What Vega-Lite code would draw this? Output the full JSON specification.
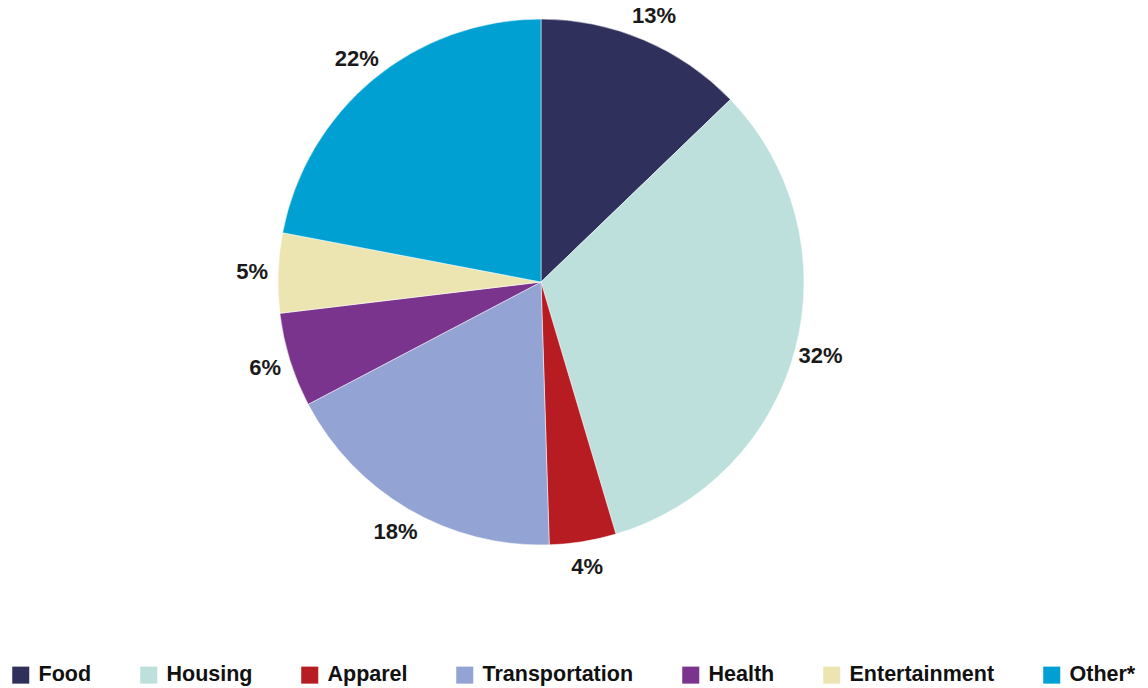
{
  "$schema": "https://vega.github.io/schema/vega-lite/v6.json",
  "autosize": {"type": "none"},
  "width": 1082,
  "height": 564,
  "padding": {"left": 0, "top": 0, "right": 66, "bottom": 124},
  "background": "white",
  "data": {"values": [
    {"category": "Food", "value": 12.8, "label": "13%", "ord": 1},
    {"category": "Housing", "value": 32.6, "label": "32%", "ord": 2},
    {"category": "Apparel", "value": 4.1, "label": "4%", "ord": 3},
    {"category": "Transportation", "value": 17.8, "label": "18%", "ord": 4},
    {"category": "Health", "value": 5.8, "label": "6%", "ord": 5},
    {"category": "Entertainment", "value": 4.9, "label": "5%", "ord": 6},
    {"category": "Other*", "value": 22.0, "label": "22%", "ord": 7}
  ]},
  "encoding": {
    "theta": {"field": "value", "type": "quantitative", "stack": true},
    "order": {"field": "ord", "type": "quantitative"}
  },
  "layer": [
    {
      "mark": {"type": "arc", "outerRadius": 263, "stroke": "white", "strokeWidth": 0.5},
      "encoding": {
        "color": {
          "field": "category", "type": "nominal",
          "scale": {
            "domain": ["Food", "Housing", "Apparel", "Transportation", "Health", "Entertainment", "Other*"],
            "range": ["#2f315c", "#bde0dd", "#b71c23", "#93a3d3", "#7a348d", "#ede5b1", "#00a1d2"]
          },
          "legend": {
            "title": null,
            "orient": "none",
            "legendX": 10,
            "legendY": 664,
            "direction": "horizontal",
            "columns": 7,
            "columnPadding": 46,
            "symbolType": "square",
            "symbolSize": 290,
            "symbolStrokeWidth": 0,
            "symbolOpacity": 1,
            "labelFont": "Liberation Sans, Arial, sans-serif",
            "labelFontWeight": "bold",
            "labelFontSize": 21.5,
            "labelColor": "#111111",
            "labelOffset": 7,
            "labelLimit": 400
          }
        }
      }
    },
    {
      "mark": {"type": "text", "radius": 289, "font": "Liberation Sans, Arial, sans-serif", "fontWeight": "bold", "fontSize": 22, "color": "#1a1a1a"},
      "encoding": {
        "text": {"field": "label", "type": "nominal"}
      }
    }
  ]
}
